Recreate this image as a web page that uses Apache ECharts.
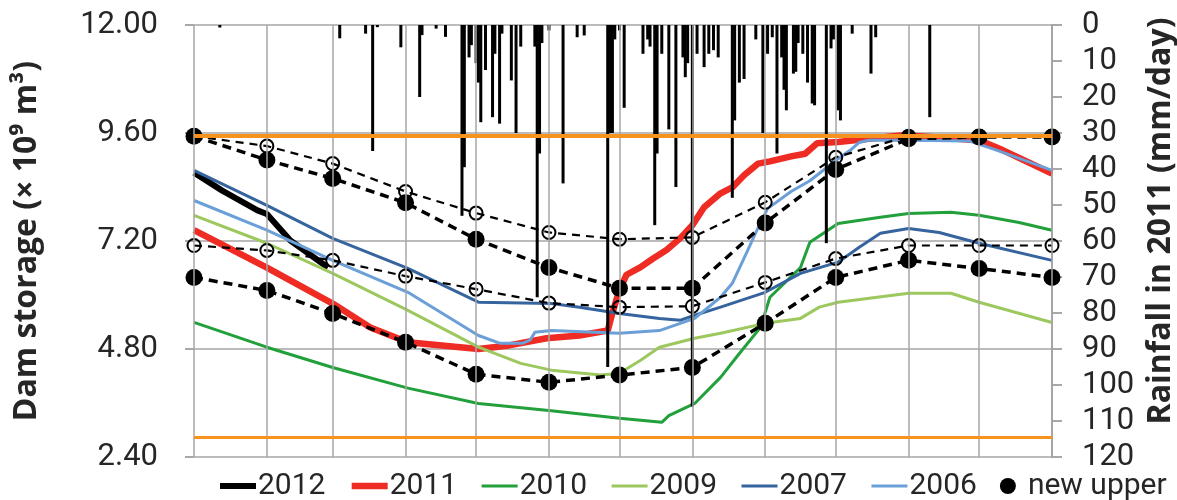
<!DOCTYPE html>
<html>
<head>
<meta charset="utf-8">
<script src="https://cdn.jsdelivr.net/npm/echarts@6/dist/echarts.min.js"></script>
<style>html,body{margin:0;padding:0;background:#fff}#c{width:1177px;height:500px}</style>
</head>
<body>
<div id="c"></div>
<script>
// ---------- DATA ----------
// day of year (0 = 1 Jan) of month starts, used for gridlines and marker points
const monthDays = [0, 31, 59, 90, 120, 151, 181, 212, 243, 273, 304, 334, 365];
// dam storage axis ticks (x 10^9 m3)
const storageTicks = [2.4, 4.8, 7.2, 9.6, 12.0];
// rainfall axis ticks (mm/day), inverted
const rainTicks = [0, 10, 20, 30, 40, 50, 60, 70, 80, 90, 100, 110, 120];
// operating limit lines
const limitLines = [9.53, 2.85];

// yearly storage curves [day, storage]
const s2012 = [[0,8.72],[12,8.32],[27,7.88],[31,7.80],[41,7.21],[57,6.61]];
const s2011 = [[0,7.44],[31,6.61],[59,5.81],[75,5.28],[91,4.95],[121,4.80],[134,4.88],[150,5.04],[164,5.10],[176,5.21],[178,5.60],[181,6.12],[184,6.45],[190,6.62],[195,6.80],[201,7.00],[207,7.27],[212,7.55],[217,7.95],[224,8.26],[229,8.39],[234,8.66],[240,8.92],[245,8.97],[254,9.08],[260,9.14],[265,9.37],[274,9.40],[288,9.48],[302,9.55],[334,9.44],[344,9.22],[365,8.70]];
const s2010 = [[0,5.39],[31,4.84],[59,4.39],[91,3.93],[121,3.59],[152,3.43],[181,3.26],[199,3.17],[202,3.32],[213,3.59],[224,4.17],[232,4.70],[241,5.28],[245,5.95],[258,6.61],[262,7.17],[274,7.59],[292,7.73],[304,7.81],[322,7.84],[334,7.77],[351,7.61],[365,7.44]];
const s2009 = [[0,7.77],[31,7.15],[59,6.48],[91,5.66],[121,4.84],[139,4.48],[152,4.33],[173,4.22],[181,4.26],[190,4.55],[198,4.84],[213,5.04],[224,5.15],[243,5.37],[258,5.48],[266,5.73],[274,5.84],[304,6.04],[322,6.04],[334,5.84],[365,5.39]];
const s2007 = [[0,8.77],[31,7.99],[59,7.26],[91,6.59],[121,5.84],[152,5.81],[164,5.73],[181,5.59],[198,5.48],[207,5.44],[213,5.55],[224,5.73],[243,6.06],[258,6.48],[274,6.73],[283,7.06],[292,7.37],[304,7.48],[317,7.39],[334,7.15],[365,6.77]];
const s2006 = [[0,8.10],[31,7.44],[59,6.77],[91,6.06],[121,5.10],[130,4.93],[140,4.93],[143,5.00],[145,5.17],[152,5.21],[181,5.15],[198,5.21],[213,5.48],[224,5.95],[229,6.26],[235,6.93],[240,7.50],[244,7.92],[254,8.30],[262,8.54],[273,8.99],[279,9.21],[283,9.39],[287,9.44],[304,9.44],[330,9.42],[342,9.21],[365,8.77]];

// rule curves at month starts
const newUpper = [9.53, 9.00, 8.59, 8.05, 7.24, 6.61, 6.15, 6.15, 7.60, 8.79, 9.47, 9.51, 9.51];
const newLower = [6.39, 6.10, 5.59, 4.95, 4.24, 4.06, 4.22, 4.39, 5.37, 6.39, 6.77, 6.59, 6.39];
const oldUpper = [9.53, 9.31, 8.92, 8.30, 7.82, 7.39, 7.24, 7.28, 8.06, 9.06, 9.53, 9.53, 9.53];
const oldLower = [7.10, 6.99, 6.77, 6.42, 6.13, 5.82, 5.73, 5.75, 6.28, 6.81, 7.10, 7.10, 7.10];

// daily rainfall in 2011 (day of year, mm/day)
const rainDays = [11,62,73,76,78,88,96,97,103,107,114,115,117,118,120,121,122,124,127,128,130,131,135,137,139,145,146,147,148,151,157,163,166,176,177,178,179,181,183,191,193,194,196,197,199,202,205,208,209,210,212,214,217,219,221,223,229,230,232,234,239,242,244,246,248,250,251,252,255,256,257,259,261,263,264,269,271,272,274,275,280,288,290,313];
const rainMm   = [0.7,3.7,2.4,35,0.6,6.2,20,2.8,1,3.3,53,39.5,9,5.6,10.6,16,27,12.5,25.6,8,27.4,2.4,15.4,30,6,6,75.6,35.7,5,1.5,44,3.4,2.9,95,30,30,4,1.5,23,8,4,6,55.6,35.7,8,29,45,9,14.5,10.6,106,8,11.7,8,7,9,48,26.5,16,15,4,30,8,3.4,35.7,9,18,23.7,13.5,13,5,8,16,21.8,22.3,60.6,6.5,4,23.7,26.5,2.4,13.5,3.4,25.6];

const legendNames = ['2012', '2011', '2010', '2009', '2007', '2006', 'new upper'];

// ---------- CHART ----------
const FONT = 'Roboto, "Noto Sans", sans-serif';
const TFONT = '"Open Sans", "Noto Sans", sans-serif';
const GRID = '#a6a6a6';
const chart = echarts.init(document.getElementById('c'), null, {renderer: 'canvas'});

const styles = {
  '2012': {color: '#000000', width: 6},
  '2011': {color: '#ee2c24', width: 6.5},
  '2010': {color: '#22a03c', width: 3},
  '2009': {color: '#9cc85e', width: 3},
  '2007': {color: '#35649f', width: 3},
  '2006': {color: '#6a9fd8', width: 3}
};

function pairsAt(vals) { return monthDays.map((d, i) => [d, vals[i]]); }
function yearLine(name, data) {
  const s = styles[name];
  return {name, type: 'line', data, symbol: 'none', z: 2, lineStyle: {color: s.color, width: s.width}, itemStyle: {color: s.color}, silent: true};
}
function ruleLine(name, vals, filled) {
  return {
    name, type: 'line', data: pairsAt(vals), z: 4, silent: true,
    symbol: 'circle', symbolSize: filled ? 17 : 13,
    lineStyle: {color: '#000', width: filled ? 3.5 : 2.2, type: filled ? [9, 6] : [8, 6]},
    itemStyle: filled ? {color: '#000'} : {color: 'rgba(0,0,0,0)', borderColor: '#000', borderWidth: 2}
  };
}

const option = {
  animation: false,
  backgroundColor: '#fff',
  grid: {left: 194, right: 125, top: 25, bottom: 43, outerBoundsMode: 'none', containLabel: false},
  xAxis: {type: 'value', min: monthDays[0], max: monthDays[monthDays.length - 1], show: false},
  yAxis: [
    {
      type: 'value', position: 'left',
      min: storageTicks[0], max: storageTicks[storageTicks.length - 1], interval: storageTicks[1] - storageTicks[0],
      axisLine: {show: false},
      axisTick: {show: true, length: 9, lineStyle: {color: '#8c8c8c', width: 1.5}},
      axisLabel: {margin: 36, fontSize: 31, fontFamily: FONT, color: '#262626', formatter: v => v.toFixed(2)},
      splitLine: {lineStyle: {color: GRID, width: 1.5}},
      name: 'Dam storage (× 10⁹ m³)', nameLocation: 'middle', nameGap: 151, nameRotate: 90,
      nameTextStyle: {fontSize: 32, fontWeight: 'bold', fontFamily: TFONT, color: '#262626'}
    },
    {
      type: 'value', position: 'right', inverse: true,
      min: rainTicks[0], max: rainTicks[rainTicks.length - 1], interval: rainTicks[1] - rainTicks[0],
      axisLine: {show: true, lineStyle: {color: '#8c8c8c', width: 1.5}},
      axisTick: {show: true, length: 10, lineStyle: {color: '#8c8c8c', width: 1.5}},
      axisLabel: {margin: 30, fontSize: 31, fontFamily: FONT, color: '#262626'},
      splitLine: {show: false},
      name: 'Rainfall in 2011 (mm/day)', nameLocation: 'middle', nameGap: 93, nameRotate: 90,
      nameTextStyle: {fontSize: 32, fontWeight: 'bold', fontFamily: TFONT, color: '#262626', padding: [0, 0, 0, 40]}
    }
  ],
  legend: {
    data: legendNames.map(n => n === 'new upper'
      ? {name: n, icon: 'circle'}
      : {name: n, itemStyle: {opacity: 0}, lineStyle: {width: styles[n].width, color: styles[n].color}}),
    left: 212, top: 466, itemWidth: 36, itemHeight: 16, itemGap: 23,
    textStyle: {fontSize: 30, fontFamily: FONT, color: '#262626', padding: [0, 0, 0, -3]},
    selectedMode: false
  },
  series: [
    {
      name: 'grid', type: 'line', data: [], z: 0, silent: true,
      markLine: {silent: true, symbol: 'none', label: {show: false}, animation: false,
        lineStyle: {color: GRID, width: 1.5, type: 'solid'},
        data: monthDays.map(d => ({xAxis: d}))}
    },
    yearLine('2012', s2012),
    yearLine('2011', s2011),
    yearLine('2010', s2010),
    yearLine('2009', s2009),
    yearLine('2007', s2007),
    yearLine('2006', s2006),
    {
      name: 'rain', type: 'bar', yAxisIndex: 1, z: 3, silent: true, barWidth: 3,
      itemStyle: {color: '#000'},
      data: rainDays.map((d, i) => [d, rainMm[i]])
    },
    ruleLine('old upper', oldUpper, false),
    ruleLine('old lower', oldLower, false),
    ruleLine('new upper', newUpper, true),
    ruleLine('new lower', newLower, true),
    {
      name: 'limits', type: 'line', data: [], z: 6, silent: true,
      markLine: {silent: true, symbol: 'none', label: {show: false}, animation: false,
        data: limitLines.map((v, i) => ({yAxis: v, lineStyle: {color: '#f7921e', width: i === 0 ? 4 : 3, type: 'solid'}}))}
    }
  ]
};
chart.setOption(option);
</script>
</body>
</html>
